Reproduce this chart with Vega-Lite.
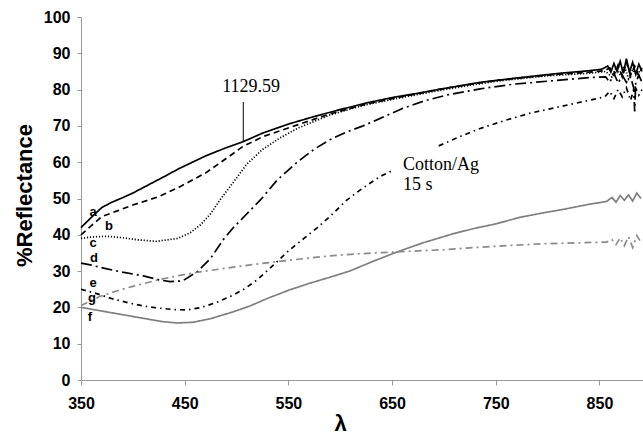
{
  "$schema": "https://vega.github.io/schema/vega-lite/v6.json",
  "width": 562,
  "height": 363,
  "autosize": {"type": "none"},
  "padding": {"left": 81, "top": 17, "right": 0, "bottom": 54},
  "background": "white",
  "config": {
    "view": {"stroke": null},
    "axis": {"labelOverlap": false, "labelFlush": false, "grid": false},
    "axisY": {"labelOverlap": false}
  },
  "datasets": {
    "curves": [
      {"s":"a","x":350,"y":42},{"s":"a","x":360,"y":44.8},{"s":"a","x":370,"y":47.5},{"s":"a","x":380,"y":49},{"s":"a","x":390,"y":50.2},{"s":"a","x":400,"y":51.5},{"s":"a","x":410,"y":53},{"s":"a","x":420,"y":54.5},{"s":"a","x":430,"y":56},{"s":"a","x":445,"y":58.3},{"s":"a","x":470,"y":61.7},{"s":"a","x":490,"y":64},{"s":"a","x":506,"y":65.6},{"s":"a","x":525,"y":68},{"s":"a","x":550,"y":70.5},{"s":"a","x":575,"y":72.6},{"s":"a","x":600,"y":74.5},{"s":"a","x":625,"y":76.3},{"s":"a","x":650,"y":77.8},{"s":"a","x":675,"y":79},{"s":"a","x":700,"y":80.3},{"s":"a","x":735,"y":82},{"s":"a","x":770,"y":83.2},{"s":"a","x":812,"y":84.5},{"s":"a","x":840,"y":85.2},{"s":"a","x":852,"y":85.6},{"s":"a","x":858,"y":86.5},{"s":"a","x":861,"y":84.8},{"s":"a","x":864,"y":87.2},{"s":"a","x":867,"y":85},{"s":"a","x":870,"y":87.8},{"s":"a","x":873,"y":84.5},{"s":"a","x":876,"y":88.5},{"s":"a","x":879,"y":84.8},{"s":"a","x":882,"y":87.5},{"s":"a","x":885,"y":84.2},{"s":"a","x":888,"y":87},{"s":"a","x":891,"y":85},
      {"s":"b","x":350,"y":40},{"s":"b","x":360,"y":42.5},{"s":"b","x":370,"y":45},{"s":"b","x":385,"y":46.6},{"s":"b","x":400,"y":48.2},{"s":"b","x":425,"y":50.5},{"s":"b","x":445,"y":53.2},{"s":"b","x":470,"y":57},{"s":"b","x":490,"y":61},{"s":"b","x":506,"y":64.3},{"s":"b","x":525,"y":67},{"s":"b","x":558,"y":70.2},{"s":"b","x":590,"y":73.3},{"s":"b","x":625,"y":76},{"s":"b","x":650,"y":77.5},{"s":"b","x":700,"y":80.3},{"s":"b","x":750,"y":82.5},{"s":"b","x":800,"y":84},{"s":"b","x":840,"y":84.8},{"s":"b","x":855,"y":85.2},{"s":"b","x":860,"y":86},{"s":"b","x":864,"y":84},{"s":"b","x":868,"y":86.8},{"s":"b","x":872,"y":83.5},{"s":"b","x":876,"y":87.5},{"s":"b","x":880,"y":84},{"s":"b","x":884,"y":86.5},{"s":"b","x":888,"y":83.8},{"s":"b","x":891,"y":86},
      {"s":"c","x":350,"y":39},{"s":"c","x":360,"y":39.4},{"s":"c","x":375,"y":39.6},{"s":"c","x":390,"y":39.2},{"s":"c","x":405,"y":38.6},{"s":"c","x":423,"y":38.2},{"s":"c","x":443,"y":39},{"s":"c","x":455,"y":40.5},{"s":"c","x":465,"y":42.7},{"s":"c","x":475,"y":45.8},{"s":"c","x":484,"y":49.6},{"s":"c","x":497,"y":54.5},{"s":"c","x":510,"y":59.5},{"s":"c","x":525,"y":63.5},{"s":"c","x":542,"y":66.7},{"s":"c","x":560,"y":69.5},{"s":"c","x":590,"y":73},{"s":"c","x":620,"y":75.5},{"s":"c","x":650,"y":77.3},{"s":"c","x":700,"y":80},{"s":"c","x":750,"y":82.3},{"s":"c","x":800,"y":83.8},{"s":"c","x":840,"y":84.5},{"s":"c","x":856,"y":85},{"s":"c","x":862,"y":83.5},{"s":"c","x":866,"y":86},{"s":"c","x":870,"y":84},{"s":"c","x":874,"y":86.5},{"s":"c","x":878,"y":83},{"s":"c","x":882,"y":85.5},{"s":"c","x":886,"y":84},{"s":"c","x":890,"y":85.5},
      {"s":"d","x":350,"y":32.2},{"s":"d","x":359,"y":31.7},{"s":"d","x":375,"y":30.6},{"s":"d","x":390,"y":29.7},{"s":"d","x":410,"y":28.7},{"s":"d","x":425,"y":27.6},{"s":"d","x":436,"y":27.1},{"s":"d","x":448,"y":27.3},{"s":"d","x":462,"y":29.8},{"s":"d","x":475,"y":33.5},{"s":"d","x":487,"y":38.6},{"s":"d","x":497,"y":42},{"s":"d","x":510,"y":45.8},{"s":"d","x":523,"y":49.6},{"s":"d","x":539,"y":55},{"s":"d","x":558,"y":59.9},{"s":"d","x":575,"y":63.6},{"s":"d","x":590,"y":66.2},{"s":"d","x":606,"y":68.3},{"s":"d","x":622,"y":70},{"s":"d","x":638,"y":72},{"s":"d","x":660,"y":74.8},{"s":"d","x":680,"y":76.8},{"s":"d","x":703,"y":78.5},{"s":"d","x":735,"y":80.2},{"s":"d","x":767,"y":81.5},{"s":"d","x":812,"y":82.6},{"s":"d","x":840,"y":83.3},{"s":"d","x":856,"y":83.5},{"s":"d","x":860,"y":82},{"s":"d","x":864,"y":84.5},{"s":"d","x":868,"y":81.8},{"s":"d","x":872,"y":84},{"s":"d","x":876,"y":82},{"s":"d","x":880,"y":83.5},{"s":"d","x":883,"y":80.5},{"s":"d","x":884,"y":74},{"s":"d","x":885,"y":82},{"s":"d","x":888,"y":84},{"s":"d","x":891,"y":82},
      {"s":"e","x":350,"y":25},{"s":"e","x":365,"y":23.8},{"s":"e","x":380,"y":22.4},{"s":"e","x":395,"y":21.3},{"s":"e","x":410,"y":20.4},{"s":"e","x":425,"y":19.8},{"s":"e","x":440,"y":19.4},{"s":"e","x":452,"y":19.3},{"s":"e","x":465,"y":19.9},{"s":"e","x":480,"y":21.3},{"s":"e","x":494,"y":23},{"s":"e","x":507,"y":25},{"s":"e","x":520,"y":27.6},{"s":"e","x":535,"y":31.5},{"s":"e","x":551,"y":35.8},{"s":"e","x":565,"y":39},{"s":"e","x":578,"y":42},{"s":"e","x":590,"y":45},{"s":"e","x":606,"y":49.5},{"s":"e","x":620,"y":52.5},{"s":"e","x":638,"y":56},{"s":"e","x":649,"y":57.5},{"s":"e","x":670,"y":null},{"s":"e","x":695,"y":64.5},{"s":"e","x":715,"y":67},{"s":"e","x":735,"y":69.3},{"s":"e","x":760,"y":71.6},{"s":"e","x":783,"y":73.5},{"s":"e","x":812,"y":75.3},{"s":"e","x":841,"y":77.1},{"s":"e","x":855,"y":78},{"s":"e","x":860,"y":79.5},{"s":"e","x":864,"y":77.5},{"s":"e","x":868,"y":80},{"s":"e","x":872,"y":78},{"s":"e","x":876,"y":80.5},{"s":"e","x":880,"y":77},{"s":"e","x":884,"y":81},{"s":"e","x":888,"y":78.5},{"s":"e","x":891,"y":80},
      {"s":"f","x":350,"y":20},{"s":"f","x":370,"y":19},{"s":"f","x":390,"y":18},{"s":"f","x":410,"y":17},{"s":"f","x":428,"y":16.1},{"s":"f","x":443,"y":15.7},{"s":"f","x":458,"y":15.9},{"s":"f","x":475,"y":16.9},{"s":"f","x":497,"y":18.8},{"s":"f","x":513,"y":20.4},{"s":"f","x":530,"y":22.5},{"s":"f","x":551,"y":24.8},{"s":"f","x":570,"y":26.6},{"s":"f","x":590,"y":28.3},{"s":"f","x":609,"y":30},{"s":"f","x":630,"y":32.5},{"s":"f","x":655,"y":35.3},{"s":"f","x":680,"y":37.8},{"s":"f","x":709,"y":40.3},{"s":"f","x":730,"y":41.8},{"s":"f","x":750,"y":43},{"s":"f","x":773,"y":44.8},{"s":"f","x":793,"y":45.9},{"s":"f","x":815,"y":47},{"s":"f","x":838,"y":48.3},{"s":"f","x":857,"y":49.2},{"s":"f","x":862,"y":50.3},{"s":"f","x":866,"y":49},{"s":"f","x":870,"y":50.8},{"s":"f","x":874,"y":49.5},{"s":"f","x":878,"y":51},{"s":"f","x":882,"y":49.3},{"s":"f","x":886,"y":51.5},{"s":"f","x":890,"y":50},
      {"s":"g","x":350,"y":20.5},{"s":"g","x":368,"y":23},{"s":"g","x":385,"y":24.6},{"s":"g","x":400,"y":25.8},{"s":"g","x":423,"y":27.5},{"s":"g","x":445,"y":28.8},{"s":"g","x":465,"y":29.8},{"s":"g","x":490,"y":30.8},{"s":"g","x":513,"y":31.7},{"s":"g","x":551,"y":33},{"s":"g","x":590,"y":34.2},{"s":"g","x":620,"y":34.8},{"s":"g","x":655,"y":35.3},{"s":"g","x":700,"y":35.9},{"s":"g","x":725,"y":36.4},{"s":"g","x":760,"y":37},{"s":"g","x":793,"y":37.5},{"s":"g","x":830,"y":37.8},{"s":"g","x":857,"y":38},{"s":"g","x":862,"y":38.7},{"s":"g","x":866,"y":37.3},{"s":"g","x":870,"y":39.2},{"s":"g","x":874,"y":37},{"s":"g","x":878,"y":39.5},{"s":"g","x":882,"y":36.5},{"s":"g","x":886,"y":39.8},{"s":"g","x":890,"y":38}
    ],
    "labels": [
      {"t":"a","x":361.6,"y":46.3},
      {"t":"b","x":377,"y":42.4},
      {"t":"c","x":361.6,"y":37.7},
      {"t":"d","x":362.5,"y":33.6},
      {"t":"e","x":361.6,"y":26.6},
      {"t":"g","x":360.6,"y":22.6},
      {"t":"f","x":358.6,"y":17.4}
    ],
    "notes": [
      {"t":"Cotton/Ag","x":660.5,"y":59.2},
      {"t":"15 s","x":660.5,"y":53.6}
    ],
    "note1": [
      {"t":"1129.59","x":514,"y":80.7}
    ],
    "leader": [
      {"x":506.5,"y":76.6,"y2":65.6}
    ]
  },
  "layer": [
    {
      "data": {"name": "curves"},
      "mark": {"type": "line", "interpolate": "linear"},
      "encoding": {
        "x": {
          "field": "x", "type": "quantitative",
          "scale": {"domain": [350, 892], "nice": false, "zero": false},
          "axis": {
            "values": [350, 450, 550, 650, 750, 850],
            "domainColor": "#999999",
            "tickColor": "#999999",
            "tickSize": 5,
            "labelFont": "Liberation Sans",
            "labelFontWeight": "bold",
            "labelFontSize": 16,
            "labelColor": "#000000",
            "labelPadding": 10,
            "title": "λ",
            "titleFont": "Liberation Sans",
            "titleFontWeight": "bold",
            "titleFontSize": 22,
            "titleColor": "#000000",
            "titleX": 259,
            "titleY": 50,
            "titleBaseline": "alphabetic",
            "titleAlign": "center"
          }
        },
        "y": {
          "field": "y", "type": "quantitative",
          "scale": {"domain": [0, 100], "nice": false},
          "axis": {
            "values": [0, 10, 20, 30, 40, 50, 60, 70, 80, 90, 100],
            "tickCount": 11,
            "domainColor": "#999999",
            "tickColor": "#999999",
            "tickSize": 4,
            "labelFont": "Liberation Sans",
            "labelFontWeight": "bold",
            "labelFontSize": 16,
            "labelColor": "#000000",
            "labelPadding": 7,
            "title": "%Reflectance",
            "titleFont": "Liberation Sans",
            "titleFontWeight": "bold",
            "titleFontSize": 22,
            "titleColor": "#000000",
            "titleX": -57,
            "titleY": 178,
            "titleAngle": -90,
            "titleBaseline": "middle",
            "titleAlign": "center"
          }
        },
        "detail": {"field": "s"},
        "color": {
          "field": "s", "type": "nominal", "legend": null,
          "scale": {"domain": ["a","b","c","d","e","f","g"], "range": ["#000000","#000000","#000000","#000000","#000000","#7f7f7f","#8a8a8a"]}
        },
        "strokeDash": {
          "field": "s", "type": "nominal", "legend": null,
          "scale": {"domain": ["a","b","c","d","e","f","g"], "range": [[1,0],[6,4],[1.2,1.8],[11,4,2,4],[5,4,1.5,4],[1,0],[7,4,2,4]]}
        },
        "strokeWidth": {
          "field": "s", "type": "nominal", "legend": null,
          "scale": {"domain": ["a","b","c","d","e","f","g"], "range": [1.7,1.7,1.2,1.7,1.7,1.6,1.5]}
        }
      }
    },
    {
      "mark": {"type": "rule", "color": "#999999", "strokeWidth": 1.2},
      "encoding": {"y": {"datum": 100, "type": "quantitative"}}
    },
    {
      "data": {"name": "leader"},
      "mark": {"type": "rule", "color": "#000000", "strokeWidth": 1},
      "encoding": {
        "x": {"field": "x", "type": "quantitative"},
        "y": {"field": "y", "type": "quantitative"},
        "y2": {"field": "y2"}
      }
    },
    {
      "data": {"name": "labels"},
      "mark": {"type": "text", "font": "Liberation Sans", "fontWeight": "bold", "fontSize": 13, "color": "#000000", "align": "center", "baseline": "middle"},
      "encoding": {
        "x": {"field": "x", "type": "quantitative"},
        "y": {"field": "y", "type": "quantitative"},
        "text": {"field": "t"}
      }
    },
    {
      "data": {"name": "notes"},
      "mark": {"type": "text", "font": "Liberation Serif", "fontSize": 18, "color": "#000000", "baseline": "middle", "align": "left"},
      "encoding": {
        "x": {"field": "x", "type": "quantitative"},
        "y": {"field": "y", "type": "quantitative"},
        "text": {"field": "t"}
      }
    },
    {
      "data": {"name": "note1"},
      "mark": {"type": "text", "font": "Liberation Serif", "fontSize": 18, "color": "#000000", "baseline": "middle", "align": "center"},
      "encoding": {
        "x": {"field": "x", "type": "quantitative"},
        "y": {"field": "y", "type": "quantitative"},
        "text": {"field": "t"}
      }
    }
  ]
}
